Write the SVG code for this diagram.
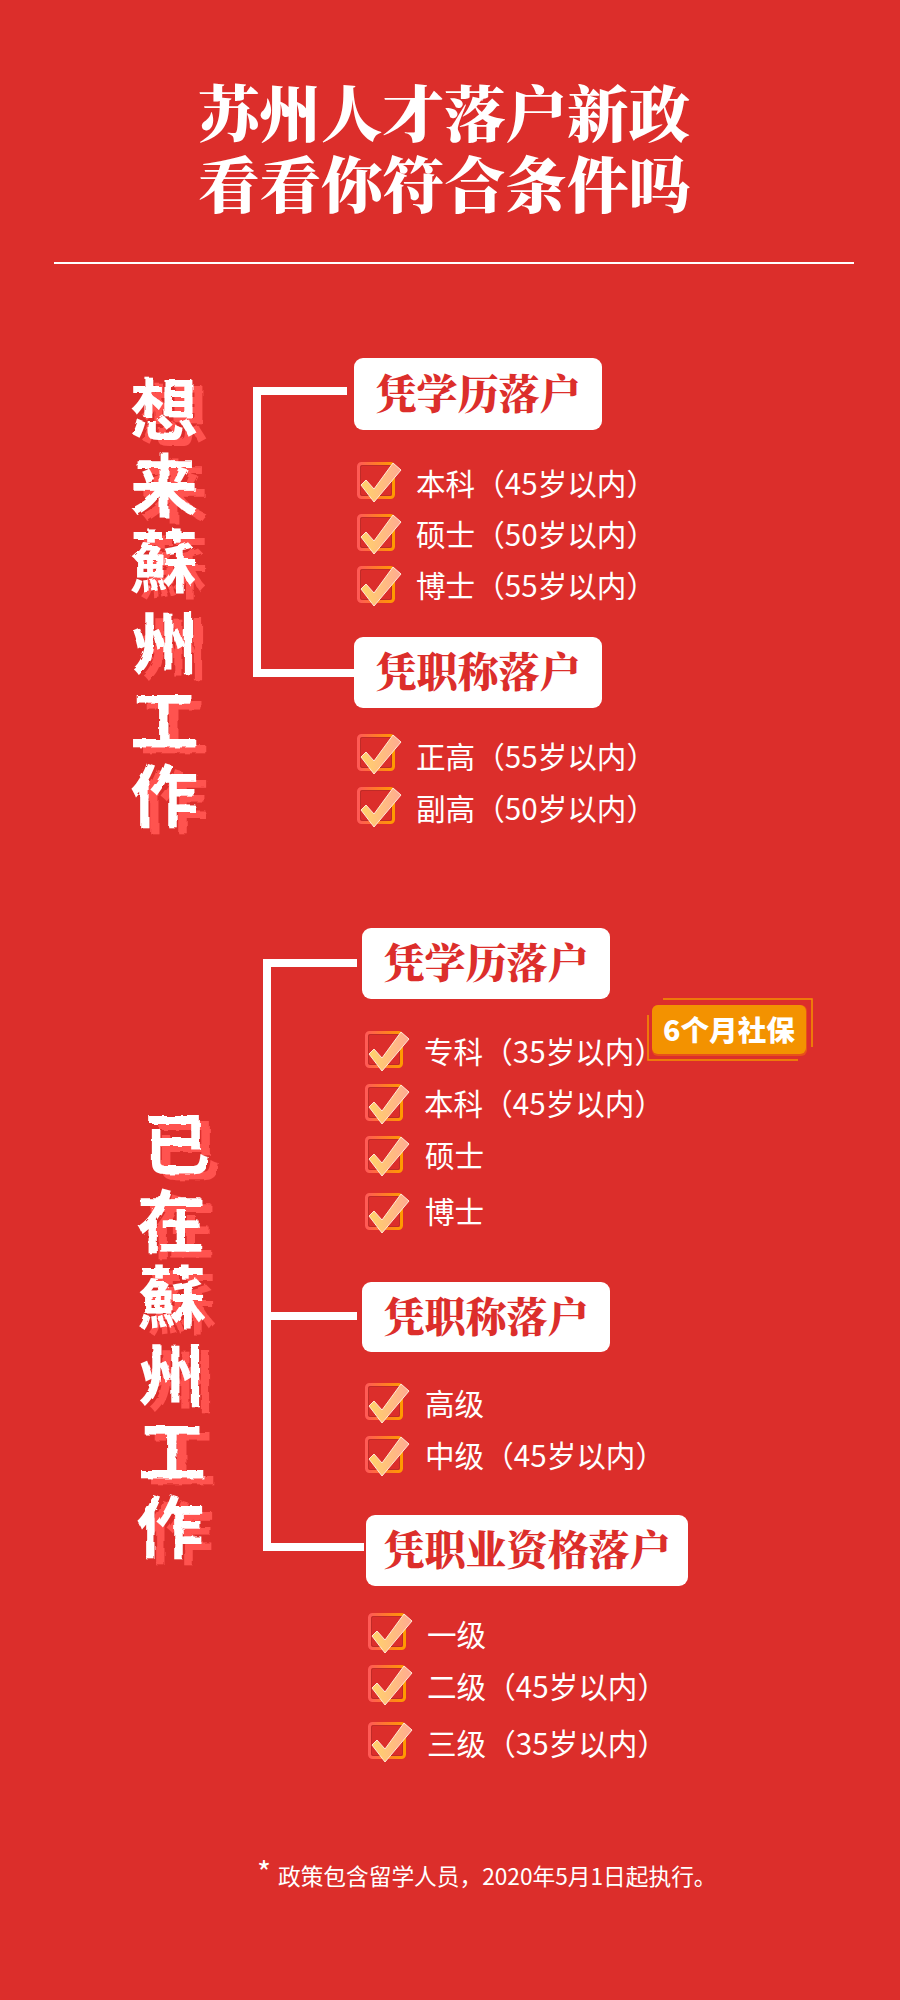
<svg xmlns="http://www.w3.org/2000/svg" xmlns:xlink="http://www.w3.org/1999/xlink" width="900" height="2000" viewBox="0 0 900 2000">
<style>
text{font-family:"Noto Sans CJK SC","Noto Sans",sans-serif}
.title{font-size:61.5px;font-weight:900;fill:#fff;text-anchor:middle;font-family:"Noto Serif CJK SC","Noto Sans CJK SC",serif}
.pill{fill:#fff}
.pt{font-size:41px;font-weight:900;fill:#DC2E2B;text-anchor:middle;font-family:"Noto Serif CJK SC","Noto Sans CJK SC",serif}
.it{font-size:29.6px;fill:#fff}
.v{font-size:68px;font-weight:700;fill:#fff;font-family:"Noto Sans CJK TC","Noto Sans CJK SC",sans-serif;filter:url(#brush)}
.conn{fill:none;stroke:#fff;stroke-width:8}
</style>
<defs>
<linearGradient id="boxg" x1="0" y1="0" x2="1" y2="0"><stop offset="0" stop-color="#FF5A55"/><stop offset="1" stop-color="#FF9A00"/></linearGradient>
<linearGradient id="chkg" x1="0" y1="0" x2="1" y2="0"><stop offset="0" stop-color="#FFD36A"/><stop offset="1" stop-color="#FFAA92"/></linearGradient>
<filter id="brush" x="-10%" y="-10%" width="130%" height="125%">
<feTurbulence type="fractalNoise" baseFrequency="0.09" numOctaves="2" seed="4" result="n"/>
<feDisplacementMap in="SourceGraphic" in2="n" scale="4" result="d"/>
<feOffset in="d" dx="10" dy="6" result="o"/>
<feFlood flood-color="#FF5250"/>
<feComposite in2="o" operator="in" result="s"/>
<feMerge><feMergeNode in="s"/><feMergeNode in="d"/></feMerge>
</filter>
<g id="chk">
<rect x="0.5" y="1.5" width="35" height="34" rx="3" fill="none" stroke="url(#boxg)" stroke-width="3"/>
<rect x="2.5" y="3.5" width="31" height="30" rx="2" fill="none" stroke="#A82A24" stroke-opacity=".55" stroke-width="1"/>
<path d="M3 23L8 18L16 27L35 1L43 8L16 40Z" fill="url(#chkg)" stroke="#FFE9D8" stroke-width="1"/>
</g>
</defs>
<rect id="bg" width="900" height="2000" fill="#DC2E2B"/>
<g id="title">
<text class="title"><tspan x="444" y="137">苏州人才落户新政</tspan><tspan x="444" y="208">看看你符合条件吗</tspan></text>
<rect x="54" y="262" width="800" height="2" fill="#fff"/>
</g>
<g id="connectors">
<path class="conn" d="M347 391H257V673H354"/>
<path class="conn" d="M357 963H267V1547H364M267 1316H357"/>
</g>
<g id="side-1">
<text class="v" x="130 130 130 130 130 130" y="435 511 587 669 746 821">想来蘇州工作</text>
</g>
<g id="side-2">
<text class="v" x="143 137 138 137 138 136" y="1170 1247 1323 1401 1477 1553">已在蘇州工作</text>
</g>
<g id="n-edu1"><rect class="pill" x="354" y="358" width="248" height="72" rx="9"/><text class="pt" x="478" y="409">凭学历落户</text></g>
<g id="n-bk1"><use href="#chk" x="358" y="462"/><text class="it" x="416" y="495">本科（45岁以内）</text></g>
<g id="n-ss1"><use href="#chk" x="358" y="514"/><text class="it" x="416" y="546">硕士（50岁以内）</text></g>
<g id="n-bs1"><use href="#chk" x="358" y="566"/><text class="it" x="416" y="597">博士（55岁以内）</text></g>
<g id="n-title1"><rect class="pill" x="354" y="637" width="248" height="71" rx="9"/><text class="pt" x="478" y="687">凭职称落户</text></g>
<g id="n-zg1"><use href="#chk" x="358" y="734"/><text class="it" x="416" y="768">正高（55岁以内）</text></g>
<g id="n-fg1"><use href="#chk" x="358" y="787"/><text class="it" x="416" y="820">副高（50岁以内）</text></g>
<g id="n-edu2"><rect class="pill" x="362" y="928" width="248" height="71" rx="9"/><text class="pt" x="486" y="978">凭学历落户</text></g>
<g id="n-zk2"><use href="#chk" x="366" y="1031"/><text class="it" x="424" y="1063">专科（35岁以内）</text></g>
<g id="badge">
<path d="M663 999H812V1047M648 1015V1060H798" fill="none" stroke="#F39200" stroke-width="1.5"/>
<rect x="652" y="1005" width="155" height="51" rx="6" fill="#E8501A"/>
<rect x="652" y="1005" width="154" height="49" rx="6" fill="#F39200"/>
<text x="729" y="1041" font-size="28.6" font-weight="900" fill="#fff" text-anchor="middle">6个月社保</text>
</g>
<g id="n-bk2"><use href="#chk" x="366" y="1084"/><text class="it" x="424" y="1115">本科（45岁以内）</text></g>
<g id="n-ss2"><use href="#chk" x="366" y="1136"/><text class="it" x="425" y="1167">硕士</text></g>
<g id="n-bs2"><use href="#chk" x="366" y="1193"/><text class="it" x="425" y="1223">博士</text></g>
<g id="n-title2"><rect class="pill" x="362" y="1282" width="248" height="70" rx="9"/><text class="pt" x="486" y="1332">凭职称落户</text></g>
<g id="n-gj2"><use href="#chk" x="366" y="1383"/><text class="it" x="425" y="1415">高级</text></g>
<g id="n-zj2"><use href="#chk" x="366" y="1436"/><text class="it" x="425" y="1467">中级（45岁以内）</text></g>
<g id="n-qual"><rect class="pill" x="366" y="1515" width="322" height="71" rx="9"/><text class="pt" x="527" y="1565">凭职业资格落户</text></g>
<g id="n-y1"><use href="#chk" x="369" y="1613"/><text class="it" x="427" y="1646">一级</text></g>
<g id="n-y2"><use href="#chk" x="369" y="1665"/><text class="it" x="427" y="1698">二级（45岁以内）</text></g>
<g id="n-y3"><use href="#chk" x="369" y="1722"/><text class="it" x="427" y="1755">三级（35岁以内）</text></g>
<g id="footer">
<text x="257" y="1884" font-size="30" fill="#fff">*</text>
<text x="278" y="1885" font-size="22.7" fill="#fff">政策包含留学人员，2020年5月1日起执行。</text>
</g>
</svg>
